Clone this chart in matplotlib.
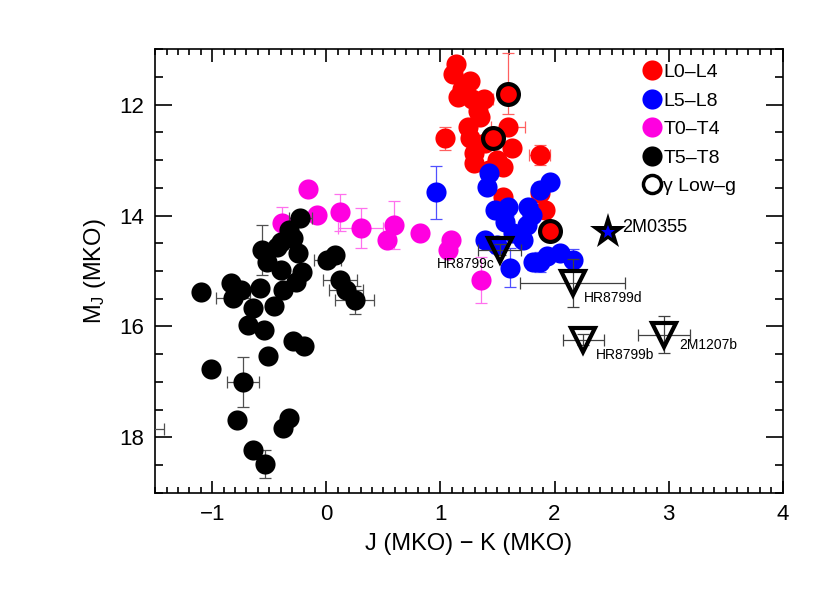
"""Colour-magnitude diagram: M_J versus J-K (MKO) for L and T dwarfs."""

import matplotlib
matplotlib.use("Agg")
import matplotlib.pyplot as plt
from matplotlib.lines import Line2D
from matplotlib.ticker import MultipleLocator

plt.rcParams["font.family"] = ["Liberation Sans", "DejaVu Sans"]
plt.rcParams["mathtext.fontset"] = "custom"
plt.rcParams["mathtext.rm"] = "Liberation Sans"
plt.rcParams["mathtext.it"] = "Liberation Sans:italic"

# ------------------------------------------------------------------
# Data (J-K colour, M_J, errors)
# ------------------------------------------------------------------

l0l4_jk = [1.14, 1.11, 1.26, 1.19, 1.15, 1.28, 1.38, 1.35, 1.24, 1.26, 1.59, 1.63,
           1.39, 1.29, 1.29, 1.50, 1.55, 1.04, 1.87, 1.55, 1.87, 1.92, 1.43, 1.33]
l0l4_mj = [11.26, 11.44, 11.57, 11.71, 11.86, 11.89, 11.89, 12.23, 12.41, 12.61, 12.41, 12.79,
           12.70, 12.88, 13.06, 12.99, 13.13, 12.61, 12.90, 13.67, 13.60, 13.90, 13.18, 12.11]
l0l4_jk_err = [0.05, 0.05, 0.05, 0.05, 0.05, 0.05, 0.08, 0.05, 0.05, 0.05, 0.15, 0.05,
               0.05, 0.05, 0.05, 0.05, 0.05, 0.05, 0.09, 0.05, 0.05, 0.05, 0.05, 0.05]
l0l4_mj_err = [0.10, 0.10, 0.10, 0.10, 0.10, 0.12, 0.10, 0.10, 0.10, 0.10, 0.10, 0.10,
               0.10, 0.10, 0.10, 0.10, 0.10, 0.20, 0.18, 0.10, 0.12, 0.12, 0.10, 0.10]

l5l8_jk = [0.96, 1.43, 1.41, 1.48, 1.59, 1.77, 1.80, 1.87, 1.96, 1.39, 1.50,
           1.64, 1.72, 1.76, 1.61, 1.81, 1.93, 2.05, 2.16, 1.57, 1.87]
l5l8_mj = [13.58, 13.24, 13.49, 13.90, 13.85, 13.85, 13.99, 13.54, 13.40, 14.44, 14.53,
           14.32, 14.44, 14.17, 14.94, 14.84, 14.73, 14.68, 14.80, 14.12, 14.84]
l5l8_jk_err = [0.05, 0.05, 0.05, 0.05, 0.05, 0.05, 0.05, 0.05, 0.05, 0.05, 0.05,
               0.05, 0.05, 0.05, 0.05, 0.05, 0.05, 0.05, 0.05, 0.05, 0.05]
l5l8_mj_err = [0.48, 0.12, 0.10, 0.10, 0.15, 0.10, 0.12, 0.15, 0.12, 0.10, 0.15,
               0.10, 0.12, 0.10, 0.35, 0.15, 0.12, 0.12, 0.20, 0.10, 0.18]

t0t4_jk = [-0.16, -0.39, -0.08, 0.12, 0.30, 0.59, 0.53, 0.82, 1.09, 1.07, 1.36]
t0t4_mj = [13.53, 14.14, 13.99, 13.94, 14.23, 14.17, 14.44, 14.32, 14.44, 14.62, 15.16]
t0t4_jk_err = [0.05, 0.05, 0.05, 0.05, 0.20, 0.05, 0.05, 0.05, 0.05, 0.05, 0.05]
t0t4_mj_err = [0.10, 0.30, 0.10, 0.33, 0.36, 0.43, 0.10, 0.10, 0.10, 0.12, 0.42]

t5t8_jk = [-0.23, -0.33, -0.40, -0.29, -0.56, -0.52, -0.43, -0.25, -0.40, -0.21, -0.27, -0.38,
           -0.58, -0.46, -0.64, -0.69, -0.55, -0.84, -0.75, -0.82, -1.10, 0.01, 0.08, 0.12,
           0.17, 0.25, -0.29, -0.20, -0.51, -1.01, -0.73, -0.78, -0.33, -0.38, -0.64, -0.54]
t5t8_mj = [14.05, 14.26, 14.48, 14.41, 14.62, 14.84, 14.57, 14.67, 14.98, 15.02, 15.20, 15.34,
           15.30, 15.64, 15.66, 15.97, 16.06, 15.21, 15.34, 15.48, 15.38, 14.80, 14.71, 15.16,
           15.34, 15.52, 16.27, 16.36, 16.54, 16.76, 17.01, 17.69, 17.66, 17.83, 18.23, 18.48]
t5t8_jk_err = [0.10, 0.05, 0.05, 0.05, 0.05, 0.05, 0.05, 0.05, 0.05, 0.05, 0.05, 0.05,
               0.05, 0.05, 0.05, 0.05, 0.05, 0.05, 0.05, 0.15, 0.05, 0.12, 0.05, 0.15,
               0.15, 0.17, 0.05, 0.05, 0.05, 0.05, 0.14, 0.05, 0.05, 0.05, 0.05, 0.05]
t5t8_mj_err = [0.10, 0.10, 0.10, 0.10, 0.45, 0.10, 0.10, 0.10, 0.10, 0.10, 0.10, 0.10,
               0.10, 0.10, 0.10, 0.10, 0.10, 0.10, 0.10, 0.10, 0.10, 0.10, 0.10, 0.10,
               0.10, 0.25, 0.10, 0.10, 0.10, 0.10, 0.45, 0.10, 0.10, 0.10, 0.10, 0.25]

# object lying just off the left edge: only its error bar shows
edge_jk = [-1.56]
edge_mj = [17.85]
edge_jk_err = [0.14]

lowg_jk = [1.59, 1.46, 1.96]
lowg_mj = [11.80, 12.61, 14.28]
lowg_mj_err_lo = [0.73, 0.12, 0.10]
lowg_mj_err_hi = [0.36, 0.12, 0.10]

planet_names = ["HR8799c", "HR8799d", "HR8799b", "2M1207b"]
planet_jk = [1.52, 2.16, 2.25, 2.96]
planet_mj = [14.62, 15.22, 16.24, 16.15]
planet_jk_err = [0.19, 0.46, 0.18, 0.23]
planet_mj_err = [0.10, 0.43, 0.10, 0.33]
planet_label_jk = [0.97, 2.26, 2.36, 3.09]
planet_label_mj = [14.87, 15.48, 16.51, 16.33]

star_name = "2M0355"
star_jk = [2.47]
star_mj = [14.30]
star_label_jk = 2.59
star_label_mj = 14.22

legend_labels = ["L0\u2013L4", "L5\u2013L8", "T0\u2013T4", "T5\u2013T8", "\u03b3 Low\u2013g"]


def plot_group(ax, jk, mj, jk_err, mj_err, color, ecolor, zorder):
    """Draw one spectral-type group as filled circles with error bars."""
    ax.errorbar(jk, mj, xerr=jk_err, yerr=mj_err, fmt="none", ecolor=ecolor,
                elinewidth=0.9, capsize=4, capthick=0.9, zorder=zorder)
    ax.plot(jk, mj, "o", color=color, markersize=14.5, markeredgewidth=0,
            linestyle="none", zorder=zorder + 0.5)


fig = plt.figure(figsize=(8.3, 5.93), dpi=100)
ax = fig.add_axes([0.187, 0.169, 0.756, 0.748])

plot_group(ax, l0l4_jk, l0l4_mj, l0l4_jk_err, l0l4_mj_err, "#ff0000", "#ff6060", 2)
plot_group(ax, l5l8_jk, l5l8_mj, l5l8_jk_err, l5l8_mj_err, "#0000ff", "#5050ff", 3)
plot_group(ax, t0t4_jk, t0t4_mj, t0t4_jk_err, t0t4_mj_err, "#ff00e0", "#ff70ee", 2)
plot_group(ax, t5t8_jk, t5t8_mj, t5t8_jk_err, t5t8_mj_err, "black", "#505050", 3)

ax.errorbar(edge_jk, edge_mj, xerr=edge_jk_err, fmt="none", ecolor="#505050",
            elinewidth=0.9, capsize=4, capthick=0.9, zorder=3)

# low-gravity objects: red circles with a thick black ring
ax.errorbar(lowg_jk, lowg_mj, yerr=[lowg_mj_err_lo, lowg_mj_err_hi], fmt="none",
            ecolor="#ff6060", elinewidth=0.9, capsize=4, capthick=0.9, zorder=5)
ax.plot(lowg_jk, lowg_mj, "o", markerfacecolor="#ff0000", markeredgecolor="black",
        markersize=15, markeredgewidth=3, linestyle="none", zorder=6)

# planetary-mass companions
ax.errorbar(planet_jk, planet_mj, xerr=planet_jk_err, yerr=planet_mj_err, fmt="none",
            ecolor="#404040", elinewidth=0.9, capsize=4, capthick=0.9, zorder=7)
ax.plot(planet_jk, planet_mj, "v", markerfacecolor="none", markeredgecolor="black",
        markersize=17, markeredgewidth=3, linestyle="none", zorder=8)
for name, x, y in zip(planet_names, planet_label_jk, planet_label_mj):
    ax.text(x, y, name, fontsize=10, ha="left", va="center", zorder=9)

# 2M0355: black star with a small blue star inside
ax.plot(star_jk, star_mj, "*", color="black", markersize=27, markeredgewidth=0,
        linestyle="none", zorder=8)
ax.plot(star_jk, star_mj, "*", color="#0000ff", markersize=10, markeredgewidth=0,
        linestyle="none", zorder=9)
ax.text(star_label_jk, star_label_mj, star_name, fontsize=13, ha="left", va="center",
        zorder=9)

# legend
legend_colors = ["#ff0000", "#0000ff", "#ff00e0", "black"]
handles = [Line2D([], [], marker="o", linestyle="none", markersize=14.5,
                  markerfacecolor=c, markeredgewidth=0) for c in legend_colors]
handles.append(Line2D([], [], marker="o", linestyle="none", markersize=13,
                      markerfacecolor="none", markeredgecolor="black", markeredgewidth=2.5))
ax.legend(handles, legend_labels, loc="upper left", bbox_to_anchor=(0.765, 0.985),
          frameon=False, fontsize=14, handlelength=0.9, handletextpad=0.15,
          labelspacing=0.56, borderaxespad=0)

ax.set_xlim(-1.5, 4)
ax.set_ylim(19, 11)
ax.xaxis.set_major_locator(MultipleLocator(1))
ax.xaxis.set_minor_locator(MultipleLocator(0.1))
ax.yaxis.set_major_locator(MultipleLocator(2))
ax.yaxis.set_minor_locator(MultipleLocator(0.5))
ax.tick_params(which="both", direction="in", top=True, right=True, width=1.2,
               labelsize=16, pad=8)
ax.tick_params(axis="x", which="major", length=9)
ax.tick_params(axis="x", which="minor", length=4.5)
ax.tick_params(axis="y", which="major", length=12)
ax.tick_params(axis="y", which="minor", length=6)
for spine in ax.spines.values():
    spine.set_linewidth(1.2)

ax.set_xlabel("J (MKO) \u2212 K (MKO)", fontsize=17, labelpad=6)
ax.set_ylabel("M$_\\mathregular{J}$ (MKO)", fontsize=17, labelpad=8)

fig.savefig("out.png", dpi=100)
